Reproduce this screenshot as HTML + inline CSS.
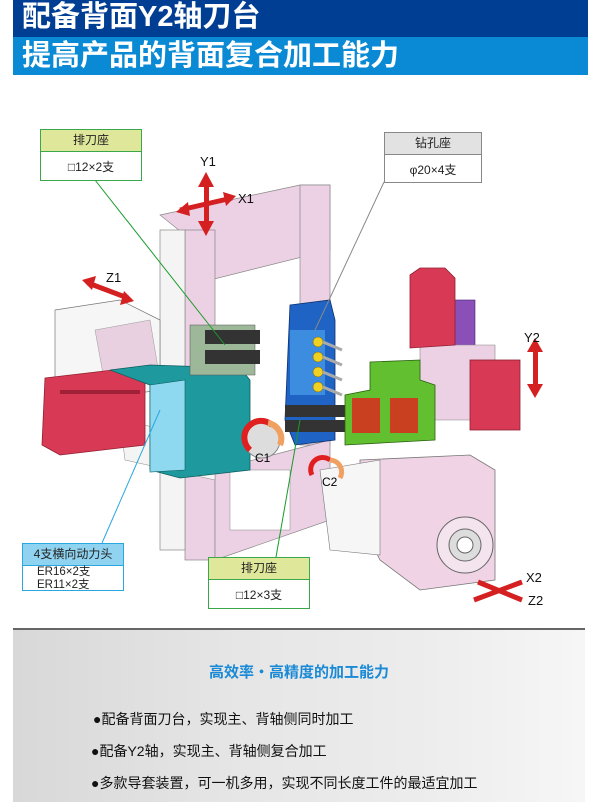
<!DOCTYPE html>
<html><head><meta charset="utf-8"><style>
body{margin:0;width:600px;height:800px;background:#fff;overflow:hidden;font-family:"Liberation Sans","Noto Sans CJK SC",sans-serif;position:relative}
.h1{position:absolute;left:13px;top:0;width:575px;height:37px;background:#003e93;color:#fff;font-weight:bold;font-size:29px;line-height:35px;padding-left:9px;box-sizing:border-box}
.h2{position:absolute;left:13px;top:37px;width:575px;height:38px;background:#0a8ad4;color:#fff;font-weight:bold;font-size:29px;line-height:38px;padding-left:9px;box-sizing:border-box}
.box{position:absolute;background:#fff;box-sizing:border-box;font-size:12px;color:#222;text-align:center}
.box .t{height:21px;line-height:21px;border-bottom:1px solid}
.box .b{line-height:30px}
.bot{position:absolute;left:13px;top:628px;width:572px;height:172px;border-top:2px solid #666;background:linear-gradient(90deg,#d8d8d8,#e6e6e6 40%,#ececec 70%,#f6f6f6)}
.bot .hd{position:absolute;left:0;width:100%;top:31px;text-align:center;color:#1a8ad6;font-weight:bold;font-size:15px}
.bot p{position:absolute;margin:0;font-size:14px;color:#111}
</style></head><body>
<div class="h1">配备背面Y2轴刀台</div>
<div class="h2">提高产品的背面复合加工能力</div>

<svg style="position:absolute;left:0;top:0" width="600" height="620">
<polygon points="160,215 300,185 330,185 330,250 210,280 210,300 185,300 185,235" fill="#ecd0e4" stroke="#888" stroke-width="0.7"/>
<rect x="185" y="230" width="30" height="330" fill="#ecd0e4" stroke="#888" stroke-width="0.7"/>
<rect x="300" y="185" width="30" height="260" fill="#ecd0e4" stroke="#888" stroke-width="0.7"/>
<rect x="160" y="230" width="25" height="320" fill="#f4f4f4" stroke="#888" stroke-width="0.7"/>
<polygon points="215,470 330,440 330,520 215,560" fill="#ecd0e4" stroke="#888" stroke-width="0.7"/>
<rect x="230" y="470" width="60" height="60" fill="#fff" stroke="#888" stroke-width="0.5"/>
<polygon points="55,310 120,300 160,320 160,390 90,400 55,380" fill="#f6f6f6" stroke="#777" stroke-width="0.7"/>
<polygon points="95,330 150,320 160,380 105,385" fill="#e8d0e0" stroke="#999" stroke-width="0.5"/>
<polygon points="120,420 215,440 215,480 125,460" fill="#f4f4f4" stroke="#888" stroke-width="0.5"/>
<polygon points="45,378 130,368 145,380 145,445 60,455 42,445" fill="#d83a56" stroke="#902030" stroke-width="0.8"/>
<rect x="60" y="390" width="80" height="4" fill="#a02038"/>
<polygon points="110,370 150,365 240,368 250,380 250,470 180,478 150,470 150,385" fill="#1e9a9e" stroke="#0d5e60" stroke-width="0.8"/>
<polygon points="150,385 185,380 185,470 150,472" fill="#8ed8f0" stroke="#0d5e60" stroke-width="0.6"/>
<rect x="190" y="325" width="65" height="50" fill="#9db898" stroke="#555" stroke-width="0.5"/>
<rect x="205" y="330" width="55" height="14" fill="#333"/>
<rect x="205" y="350" width="55" height="14" fill="#333"/>
<circle cx="262" cy="440" r="18" fill="#ddd" stroke="#888"/>
<path d="M250 450 A16 16 0 0 1 272 425" stroke="#e02020" stroke-width="6" fill="none"/>
<path d="M268 423 A16 16 0 0 1 280 445" stroke="#f0a060" stroke-width="6" fill="none"/>
<text x="255" y="462" font-size="12" font-family="Liberation Sans">C1</text>
<polygon points="290,305 330,300 335,320 335,440 295,445 285,420" fill="#1f64c4" stroke="#0d3070" stroke-width="0.8"/>
<rect x="290" y="330" width="35" height="65" fill="#3c8de0"/>
<g fill="#f0d020" stroke="#806000" stroke-width="0.5">
<circle cx="318" cy="342" r="5"/><circle cx="318" cy="357" r="5"/><circle cx="318" cy="372" r="5"/><circle cx="318" cy="387" r="5"/></g>
<g stroke="#aaa" stroke-width="3"><line x1="323" y1="342" x2="342" y2="350"/><line x1="323" y1="357" x2="342" y2="365"/><line x1="323" y1="372" x2="342" y2="380"/><line x1="323" y1="387" x2="342" y2="395"/></g>
<rect x="285" y="405" width="60" height="12" fill="#333"/>
<rect x="285" y="420" width="60" height="12" fill="#333"/>
<rect x="440" y="300" width="35" height="70" fill="#8a50b8" stroke="#4a2070" stroke-width="0.6"/>
<polygon points="420,345 495,345 495,420 420,420" fill="#ecd0e4" stroke="#888" stroke-width="0.6"/>
<polygon points="410,275 420,268 445,268 455,278 455,345 410,348" fill="#d83a56" stroke="#902030" stroke-width="0.8"/>
<rect x="470" y="360" width="50" height="70" fill="#d83a56" stroke="#902030" stroke-width="0.8"/>
<polygon points="370,362 420,360 420,380 435,385 435,440 345,445 345,395 370,390" fill="#62c030" stroke="#2a6010" stroke-width="0.8"/>
<rect x="352" y="398" width="28" height="35" fill="#c84020"/><rect x="390" y="398" width="28" height="35" fill="#c84020"/>
<polygon points="360,460 470,455 495,470 495,580 420,590 380,560 360,520" fill="#f0d4e6" stroke="#777" stroke-width="0.8"/>
<polygon points="320,470 380,460 380,555 330,550" fill="#f6f6f6" stroke="#777" stroke-width="0.6"/>
<circle cx="465" cy="545" r="28" fill="#f4e4ee" stroke="#666"/>
<circle cx="465" cy="545" r="16" fill="#ddd" stroke="#666"/>
<circle cx="465" cy="545" r="8" fill="#fff" stroke="#666"/>
<path d="M312 475 A12 12 0 0 1 330 460" stroke="#e02020" stroke-width="5" fill="none"/>
<path d="M330 460 A12 12 0 0 1 340 478" stroke="#f0a060" stroke-width="5" fill="none"/>
<text x="322" y="486" font-size="12" font-family="Liberation Sans">C2</text>
<g fill="#d42020">
<rect x="204" y="185" width="5" height="38"/><polygon points="206,172 198,187 214,187"/><polygon points="206,236 198,221 214,221"/>
<line x1="180" y1="210" x2="232" y2="198" stroke="#d42020" stroke-width="5"/><polygon points="176,212 188,202 190,216"/><polygon points="236,196 223,192 226,206"/>
<line x1="88" y1="283" x2="128" y2="298" stroke="#d42020" stroke-width="5"/><polygon points="82,280 96,276 92,290"/><polygon points="134,301 120,305 124,291"/>
<rect x="533" y="347" width="5" height="40"/><polygon points="535,338 527,352 543,352"/><polygon points="535,398 527,384 543,384"/>
<line x1="474" y1="600" x2="522" y2="582" stroke="#d42020" stroke-width="5"/><line x1="478" y1="582" x2="522" y2="600" stroke="#d42020" stroke-width="5"/>
</g>
<g font-family="Liberation Sans" font-size="13" fill="#111">
<text x="200" y="166">Y1</text><text x="238" y="203">X1</text><text x="106" y="282">Z1</text>
<text x="524" y="342">Y2</text><text x="526" y="582">X2</text><text x="528" y="605">Z2</text></g>
<line x1="95" y1="180" x2="225" y2="345" stroke="#1a9a2a" stroke-width="1"/>
<line x1="384" y1="182" x2="315" y2="330" stroke="#888" stroke-width="1"/>
<line x1="102" y1="543" x2="160" y2="410" stroke="#29a8e0" stroke-width="1"/>
<line x1="276" y1="557" x2="300" y2="420" stroke="#1a9a2a" stroke-width="1"/>
</svg>

<div class="box" style="left:40px;top:129px;width:102px;height:52px;border:1.5px solid #3aa84a"><div class="t" style="background:#dfe89a;border-color:#3aa84a">排刀座</div><div class="b">□12×2支</div></div>
<div class="box" style="left:384px;top:132px;width:98px;height:51px;border:1.5px solid #888"><div class="t" style="background:#e2e2e2;border-color:#888">钻孔座</div><div class="b">φ20×4支</div></div>
<div class="box" style="left:22px;top:543px;width:102px;height:48px;border:1.5px solid #29a8e0;text-align:left"><div class="t" style="background:#8fd3f0;border-color:#29a8e0;text-align:center">4支横向动力头</div><div style="padding-left:14px;line-height:12.5px;padding-top:0px;font-size:11.5px">ER16×2支<br>ER11×2支</div></div>
<div class="box" style="left:208px;top:557px;width:102px;height:52px;border:1.5px solid #3aa84a"><div class="t" style="background:#dfe89a;border-color:#3aa84a">排刀座</div><div class="b">□12×3支</div></div>

<div class="bot">
<div class="hd">高效率・高精度的加工能力</div>
<p style="left:80px;top:79px">●配备背面刀台，实现主、背轴侧同时加工</p>
<p style="left:78px;top:111px">●配备Y2轴，实现主、背轴侧复合加工</p>
<p style="left:78px;top:143px">●多款导套装置，可一机多用，实现不同长度工件的最适宜加工</p>
</div>
</body></html>
